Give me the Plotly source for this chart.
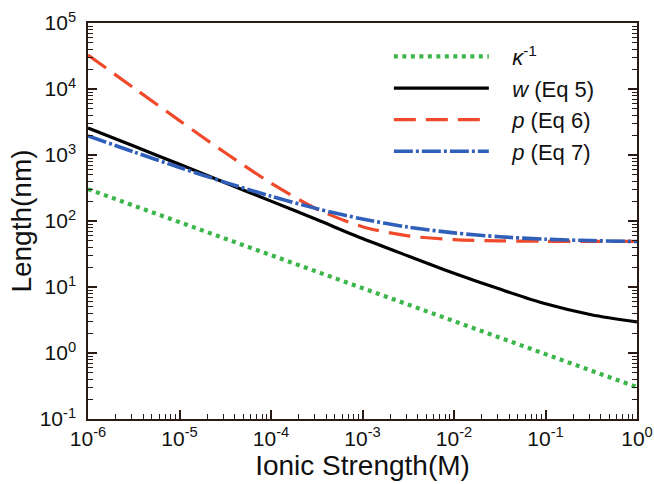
import plotly.graph_objects as go

# Ionic strength (M), half-decade grid
ionic = [1e-6, 3.16e-6, 1e-5, 3.16e-5, 1e-4, 3.16e-4, 1e-3, 3.16e-3, 1e-2, 3.16e-2, 1e-1, 3.16e-1, 1.0]

# Lengths (nm)
kappa_inv = [304, 171, 96, 54, 30.4, 17.1, 9.6, 5.4, 3.04, 1.71, 0.96, 0.54, 0.304]
w_eq5 = [2570, 1365, 724, 380, 200, 105, 54.3, 29.5, 16.2, 9.3, 5.56, 3.8, 2.95]
p_eq6 = [32700, 10400, 3320, 1080, 375, 152, 82, 59.5, 52.3, 50, 49.3, 49, 49]
p_eq7 = [1947, 1115, 648, 385, 237, 154, 107, 80.8, 66, 57.7, 53, 50.4, 48.9]

SP = "\u00a0\u00a0\u00a0"
names = [SP + "<i>κ</i><sup>-1</sup>", SP + "<i>w</i> (Eq 5)", SP + "<i>p</i> (Eq 6)", SP + "<i>p</i> (Eq 7)"]

x_tickvals = [1e-6, 1e-5, 1e-4, 1e-3, 1e-2, 1e-1, 1]
x_ticktext = ["10<sup>-6</sup>", "10<sup>-5</sup>", "10<sup>-4</sup>", "10<sup>-3</sup>",
              "10<sup>-2</sup>", "10<sup>-1</sup>", "10<sup>0</sup>"]
y_tickvals = [1e-1, 1, 1e1, 1e2, 1e3, 1e4, 1e5]
y_ticktext = ["10<sup>-1</sup>", "10<sup>0</sup>", "10<sup>1</sup>", "10<sup>2</sup>",
              "10<sup>3</sup>", "10<sup>4</sup>", "10<sup>5</sup>"]

def minors(lo, hi):
    out = []
    for e in range(lo, hi):
        for m in range(2, 10):
            out.append(m * 10 ** e)
    return out

FONT = "Liberation Sans, Arial"
AX = "#2a1a14"

fig = go.Figure()
fig.add_trace(go.Scatter(x=ionic, y=kappa_inv, mode="lines", name=names[0],
                         line=dict(color="#3cb54a", width=4.2, dash="4px,4.5px")))
fig.add_trace(go.Scatter(x=ionic, y=w_eq5, mode="lines", name=names[1],
                         line=dict(color="#000000", width=3.2, shape="spline", smoothing=0.8)))
fig.add_trace(go.Scatter(x=ionic, y=p_eq6, mode="lines", name=names[2],
                         line=dict(color="#f04a2a", width=3.2, dash="22px,10px",
                                   shape="spline", smoothing=0.8)))
fig.add_trace(go.Scatter(x=ionic, y=p_eq7, mode="lines", name=names[3],
                         line=dict(color="#2f5fb8", width=3.6, dash="19px,3px,3px,3px",
                                   shape="spline", smoothing=0.8)))

axis_common = dict(
    type="log", showgrid=False, zeroline=False, automargin=False,
    showline=True, linecolor=AX, linewidth=1.5,
    ticks="inside", ticklen=9, tickwidth=1.6, tickcolor=AX,
    tickfont=dict(family=FONT, size=21, color="#111"),
)

fig.update_xaxes(
    **axis_common, range=[-6, 0], mirror=True, ticklabelstandoff=0,
    tickmode="array", tickvals=x_tickvals, ticktext=x_ticktext,
    minor=dict(tickmode="array", tickvals=minors(-6, 0), ticks="inside", ticklen=5,
               tickwidth=1, tickcolor=AX),
    title=dict(text="Ionic Strength(M)", standoff=0,
               font=dict(family=FONT, size=28, color="#111")),
)
fig.update_yaxes(
    **axis_common, range=[-1, 5], mirror="allticks", ticklabelstandoff=6,
    tickmode="array", tickvals=y_tickvals, ticktext=y_ticktext,
    minor=dict(tickmode="array", tickvals=minors(-1, 5), ticks="inside", ticklen=5,
               tickwidth=1, tickcolor=AX),
    title=dict(text="Length(nm)", standoff=0,
               font=dict(family=FONT, size=28, color="#111")),
)

fig.update_layout(
    width=654, height=484,
    margin=dict(l=88, r=17, t=23, b=65),
    paper_bgcolor="white", plot_bgcolor="white",
    showlegend=True,
    legend=dict(x=0.548, y=0.968, xanchor="left", yanchor="top",
                bgcolor="rgba(0,0,0,0)", itemwidth=95,
                font=dict(family=FONT, size=22, color="#111"),
                tracegroupgap=0),
)

# remove the page's default body margin so the figure fills the window exactly
fig.write_html("out.html",
               config={"displayModeBar": False},
               post_script="document.body.style.margin='0';document.body.style.overflow='hidden';")
